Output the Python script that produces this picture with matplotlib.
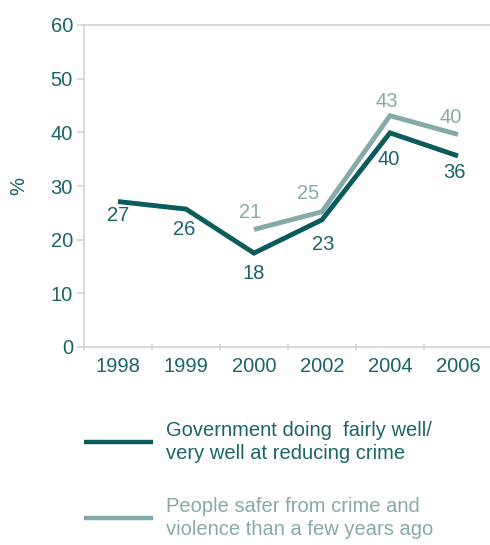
import matplotlib
matplotlib.use("Agg")
import matplotlib.pyplot as plt
from matplotlib.lines import Line2D

years = ["1998", "1999", "2000", "2002", "2004", "2006"]
gov_values = [27.1, 25.7, 17.5, 23.7, 39.9, 35.6]
gov_labels = ["27", "26", "18", "23", "40", "36"]
safer_years = ["2000", "2002", "2004", "2006"]
safer_values = [21.9, 25.2, 43.1, 39.6]
safer_labels = ["21", "25", "43", "40"]
y_ticks = [0, 10, 20, 30, 40, 50, 60]
legend_labels = ["Government doing  fairly well/\nvery well at reducing crime",
                 "People safer from crime and\nviolence than a few years ago"]

DARK = "#0a5b5c"
LIGHT = "#86aaa9"
TEXT = "#1a6567"
GRID = "#d3d3d3"
FS = 14.5

plt.rcParams['font.family'] = ['Liberation Sans', 'DejaVu Sans']

fig = plt.figure(figsize=(4.9, 5.45), dpi=100)
ax = fig.add_axes([84/490, 198/545, 408/490, 322/545])

xpos = {y: i for i, y in enumerate(years)}
gx = [xpos[y] for y in years]
sx = [xpos[y] for y in safer_years]

ax.plot(sx, safer_values, color=LIGHT, lw=3.5, solid_joinstyle='miter', solid_capstyle='butt', clip_on=False)
ax.plot(gx, gov_values, color=DARK, lw=3.5, solid_joinstyle='miter', solid_capstyle='butt', clip_on=False)

gov_off = [(0, -14), (-2, -20), (0, -20), (1, -25), (-1, -27), (-4, -17)]
for x, v, lab, off in zip(gx, gov_values, gov_labels, gov_off):
    ax.annotate(lab, (x, v), xytext=off, textcoords='offset pixels',
                ha='center', va='center', color=TEXT, fontsize=FS)
safer_off = [(-4, 17), (-14, 18), (-3, 14), (-7, 17)]
for x, v, lab, off in zip(sx, safer_values, safer_labels, safer_off):
    ax.annotate(lab, (x, v), xytext=off, textcoords='offset pixels',
                ha='center', va='center', color=LIGHT, fontsize=FS)

ax.set_xlim(-0.5, len(years) - 0.5)
ax.set_ylim(0, 60)
ax.set_yticks(y_ticks)
ax.set_yticklabels([str(t) for t in y_ticks])
ax.set_xticks(range(len(years)))
ax.set_xticklabels(years)
ax.set_xticks([i - 0.5 for i in range(len(years) + 1)], minor=True)
ax.tick_params(axis='x', which='major', length=0, pad=7, labelsize=FS, labelcolor=TEXT)
ax.tick_params(axis='x', which='minor', length=5, color=GRID, width=1.2, direction='inout')
ax.tick_params(axis='y', length=5, color=GRID, width=1.2, labelsize=FS, labelcolor=TEXT, pad=3)

for s in ['left', 'bottom', 'top']:
    ax.spines[s].set_color(GRID)
    ax.spines[s].set_linewidth(1.2)
ax.spines['right'].set_visible(False)

ax.set_ylabel("%", color=TEXT, fontsize=FS, labelpad=16)

# legend
leg_y = [442, 518]
leg_colors = [DARK, LIGHT]
text_colors = [TEXT, LIGHT]
for yy, c, tc, lab in zip(leg_y, leg_colors, text_colors, legend_labels):
    fy = 1 - yy / 545
    fig.add_artist(Line2D([84/490, 153/490], [fy, fy], color=c, lw=3.2, solid_capstyle='butt'))
    fig.text(166/490, fy, lab, color=tc, fontsize=14.5, va='center', ha='left', linespacing=1.32)

fig.savefig("out.png", dpi=100)
